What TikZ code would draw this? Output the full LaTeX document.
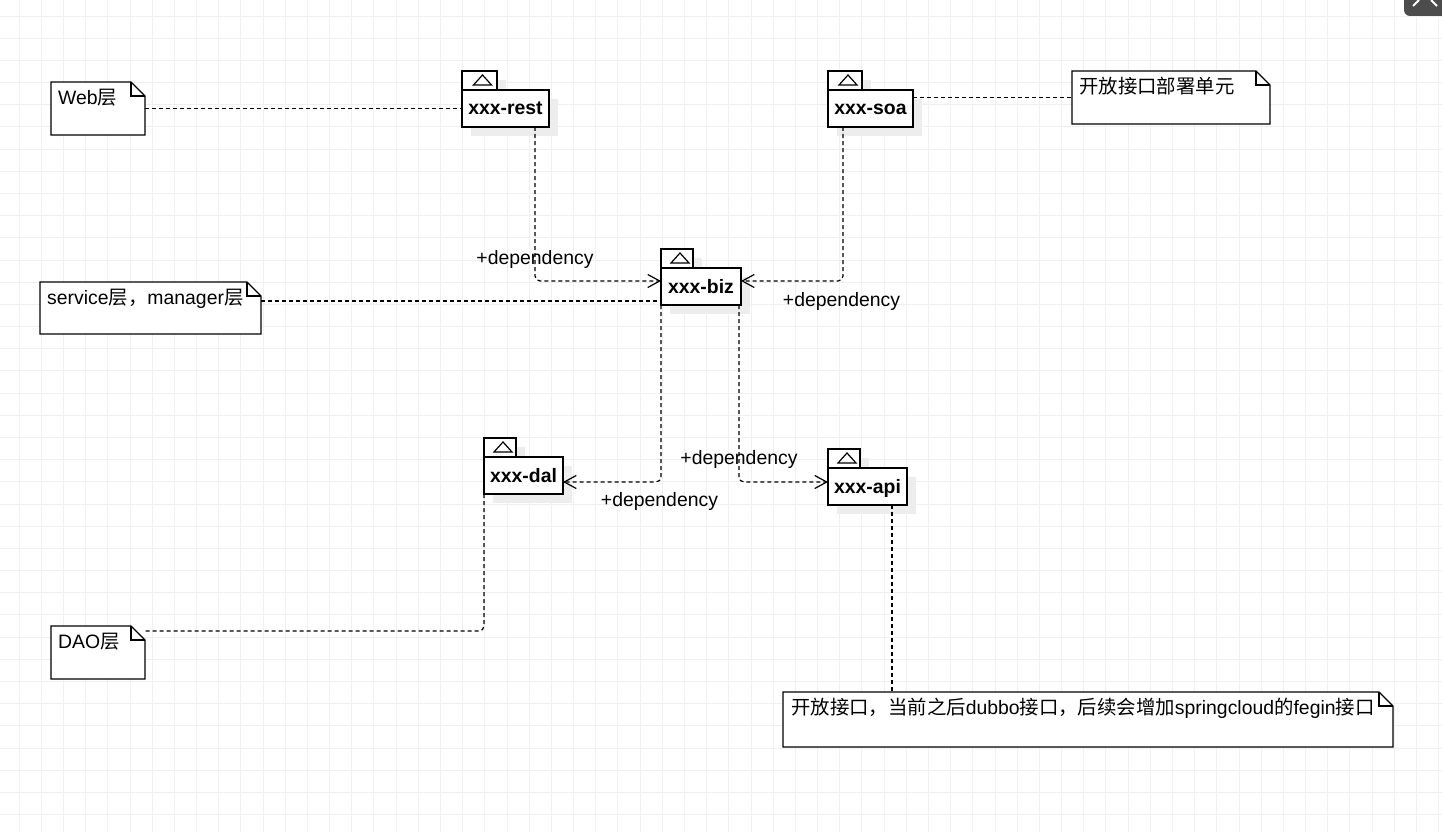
\documentclass[tikz,border=0pt]{standalone}
\usepackage{fontspec}
\setmainfont{Liberation Sans}
\newfontfamily\cjk{Noto Sans CJK SC}
\newcommand{\zh}[1]{{\cjk #1}}
\usetikzlibrary{positioning,calc,shadows,arrows.meta}

\tikzset{
    gridline/.style={black!6, line width=0.8pt},
    pkgshadow/.style={general shadow={fill=black!7, draw=none, shadow xshift=9pt, shadow yshift=-9pt}},
    pkgtab/.style={draw, fill=white, line width=1.3pt, minimum width=33pt, minimum height=19pt,
        inner sep=0pt, outer sep=0pt, anchor=south west, pkgshadow,
        path picture={\draw[line width=1.2pt] ($(path picture bounding box.north)+(3,4)$) -- ++(9,10) -- ++(-18,0) -- cycle;}},
    pkgbody/.style={draw, fill=white, line width=1.3pt, minimum height=37pt, inner sep=0pt, outer sep=0pt,
        pkgshadow, font=\fontsize{19.4}{23}\selectfont\bfseries, text height=13pt, text depth=0pt},
    notebox/.style={minimum width=#1, inner sep=0pt, outer sep=0pt, anchor=north west},
    noteline/.style={draw, line width=1.3pt, line join=miter},
    notetext/.style={inner sep=0pt, font=\fontsize{19.4}{23}\selectfont, text height=14pt, text depth=4pt},
    link/.style={line width=1.2pt, dash pattern=on 4pt off 3pt},
    dep/.style={link, rounded corners=5pt, -{Straight Barb[length=12pt, width=13pt]}},
    deplabel/.style={inner sep=0pt, font=\fontsize{19.4}{23}\selectfont, text height=14pt, text depth=4pt},
}

\begin{document}
\begin{tikzpicture}[x=1pt, y=-1pt]
    \useasboundingbox (0,0) rectangle (1442,832);
    \fill[white] (0,0) rectangle (1442,832);

    % grid
    \foreach \i in {0,...,64}
        \draw[gridline] ({19+22.18*\i},0) -- ({19+22.18*\i},832);
    \foreach \j in {0,...,36}
        \draw[gridline] (0,{16+22.18*\j}) -- (1442,{16+22.18*\j});

    % corner button
    \fill[black!70, rounded corners=6pt] (1404,-14) rectangle (1462,16);
    \draw[white, line width=2pt] (1413,6) -- (1419,0);
    \draw[white, line width=2pt] (1431,0) -- (1437,6);

    % notes
    \node[notebox=94pt, minimum height=53pt] (web) at (51,82) {};
    \node[notebox=221pt, minimum height=52pt] (svc) at (40,282) {};
    \node[notebox=198pt, minimum height=53pt] (soaNote) at (1072,71) {};
    \node[notebox=94pt, minimum height=53pt] (dao) at (51,626) {};
    \node[notebox=610pt, minimum height=55pt] (apiNote) at (783,692) {};
    \foreach \n in {web,svc,soaNote,dao,apiNote}{
        \draw[noteline, fill=white] (\n.north west) -- ([xshift=-14pt]\n.north east) -- ([yshift=-14pt]\n.north east)
            -- (\n.south east) -- (\n.south west) -- cycle;
        \draw[noteline] ([xshift=-14pt]\n.north east) |- ([yshift=-14pt]\n.north east);
    }
    \node[notetext, below right=8pt and 7pt of web.north west] (webText) {Web\zh{层}};
    \node[notetext, below right=8pt and 7pt of svc.north west] (svcText) {service\zh{层，}manager\zh{层}};
    \node[notetext, below right=8pt and 7pt of soaNote.north west] (soaText) {\zh{开放接口部署单元}};
    \node[notetext, below right=8pt and 7pt of dao.north west] (daoText) {DAO\zh{层}};
    \node[notetext, below right=8pt and 8pt of apiNote.north west] (apiText)
        {\zh{开放接口，当前之后}dubbo\zh{接口，后续会增加}springcloud\zh{的}fegin\zh{接口}};

    % packages
    \node[pkgtab, minimum width=35pt] (restTab) at (462,90) {};
    \node[pkgbody, minimum width=87pt, below right=0pt and 0pt of restTab.south west] (rest) {xxx-rest};
    \node[pkgtab, minimum width=34pt] (soaTab) at (828,90) {};
    \node[pkgbody, minimum width=85pt, below right=0pt and 0pt of soaTab.south west] (soa) {xxx-soa};
    \node[pkgtab, minimum width=32pt] (bizTab) at (661,268) {};
    \node[pkgbody, minimum width=80pt, below right=0pt and 0pt of bizTab.south west] (biz) {xxx-biz};
    \node[pkgtab, minimum width=32pt] (dalTab) at (484,457) {};
    \node[pkgbody, minimum width=79pt, below right=0pt and 0pt of dalTab.south west] (dal) {xxx-dal};
    \node[pkgtab, minimum width=32pt] (apiTab) at (828,468) {};
    \node[pkgbody, minimum width=79pt, below right=0pt and 0pt of apiTab.south west] (api) {xxx-api};

    % note links
    \draw[link] (web.east) -- (rest.west);
    \draw[link] (soa.east |- soaNote.west) -- (soaNote.west);
    \draw[link] ([yshift=7pt]svc.east) -- ([yshift=-14.5pt]biz.west);
    \draw[link, rounded corners=5pt] (dal.south west) |- ([yshift=21.5pt]dao.east);
    \coordinate (apiOut) at ([xshift=24.5pt]api.south);
    \draw[link] (apiOut) -- (apiOut |- apiNote.north);

    % dependencies
    \draw[dep] ([xshift=29.5pt]rest.south) |- node[deplabel, yshift=22pt] {+dependency} ([yshift=5.5pt]biz.west);
    \draw[dep] ([xshift=-27.5pt]soa.south) |- node[deplabel, yshift=-20pt, xshift=-1.5pt] {+dependency} ([yshift=5.5pt]biz.east);
    \draw[dep] (biz.south west) |- node[deplabel, yshift=-19pt, xshift=-1.5pt] {+dependency} ([yshift=-6.5pt]dal.east);
    \draw[dep] ([xshift=-2pt]biz.south east) |- node[deplabel, yshift=23pt] {+dependency} ([yshift=4.5pt]api.west);
\end{tikzpicture}
\end{document}
